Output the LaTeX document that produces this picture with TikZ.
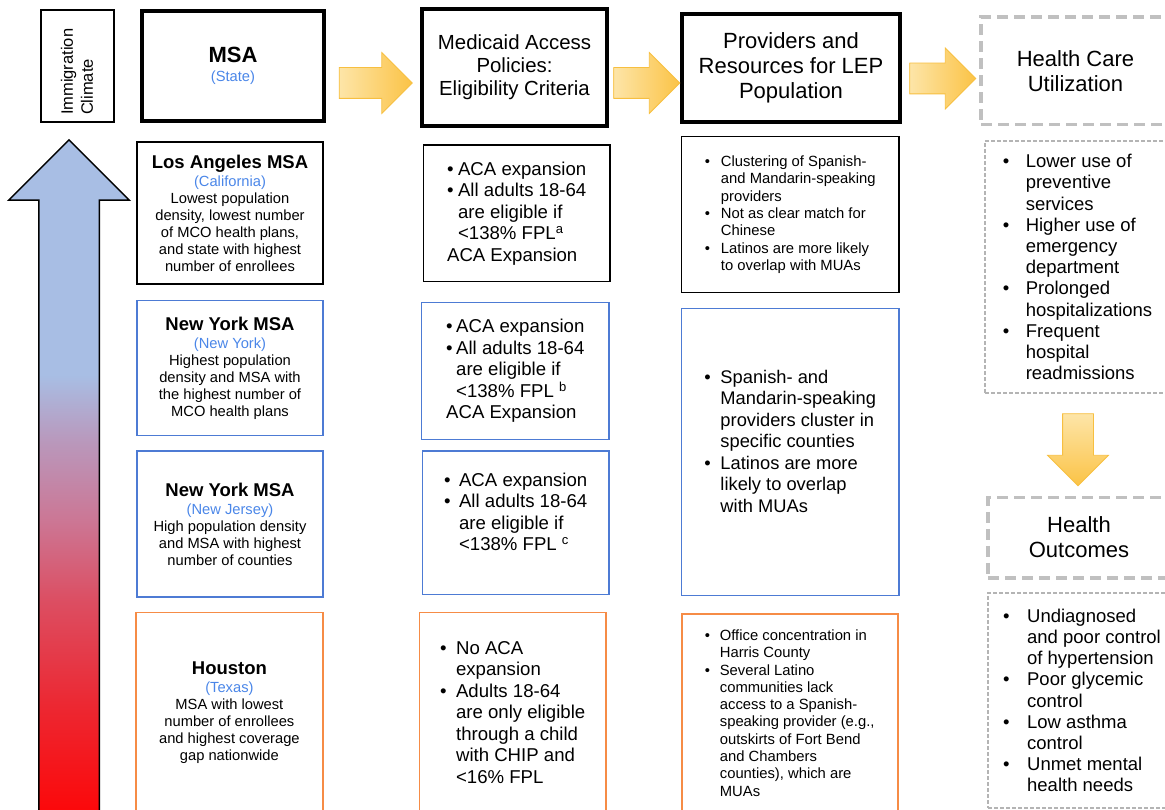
\documentclass[tikz,border=0pt]{standalone}
\usepackage{fontspec}
\setmainfont{Liberation Sans}
\usetikzlibrary{shapes.arrows}

% Colours
\definecolor{txtblue}{RGB}{74,134,232}
\definecolor{boxblue}{RGB}{77,123,212}
\definecolor{boxorange}{RGB}{246,140,70}
\definecolor{dashgray}{RGB}{192,192,192}
\definecolor{dotgray}{RGB}{180,180,180}
\definecolor{arrlight}{RGB}{253,229,168}
\definecolor{arrdark}{RGB}{251,195,70}
\definecolor{arredge}{RGB}{247,191,64}
\definecolor{climblue}{RGB}{168,190,228}
\definecolor{climlilac}{RGB}{185,152,188}
\definecolor{climrose}{RGB}{204,118,148}
\definecolor{climpink}{RGB}{220,78,98}
\definecolor{climcoral}{RGB}{236,40,50}
\definecolor{climred}{RGB}{252,8,10}

\pgfdeclareverticalshading{climate}{100bp}{%
  color(0bp)=(climred); color(25bp)=(climred); color(33bp)=(climcoral);
  color(40.7bp)=(climpink); color(46.6bp)=(climrose); color(52.6bp)=(climlilac);
  color(57.5bp)=(climblue); color(75bp)=(climblue); color(100bp)=(climblue)}

\tikzset{
  hdr/.style={draw, line width=3.5pt, align=center, font=\fontsize{20.4}{23}\selectfont},
  dashhdr/.style={draw=dashgray, line width=3.5pt, dash pattern=on 11pt off 6pt, align=center, font=\fontsize{22}{25}\selectfont},
  cell/.style={draw, line width=1.6pt, align=center, font=\fontsize{14.7}{17}\selectfont},
  bluecell/.style={cell, draw=boxblue},
  orangecell/.style={cell, draw=boxorange},
  biglist/.style={align=left, font=\fontsize{18.6}{21.5}\selectfont},
  smalllist/.style={align=left, font=\fontsize{14.8}{17.3}\selectfont},
  dotlist/.style={draw=dotgray, line width=1.2pt, dash pattern=on 4pt off 2pt, align=left, font=\fontsize{18.5}{21.2}\selectfont},
  blockarrow/.style={single arrow, draw=arredge, line width=0.8pt, left color=arrlight, right color=arrdark, minimum width=60pt, single arrow head extend=15pt, single arrow tip angle=90, inner sep=15pt},
  climarrow/.style={single arrow, draw, line width=1.5pt, shade, shading=climate, shape border rotate=90, minimum width=119pt, minimum height=672pt, single arrow head extend=30pt, single arrow tip angle=90, inner sep=29.5pt}
}

\newcommand{\ttl}[1]{{\fontsize{18.5}{17}\selectfont\bfseries #1}}
\newcommand{\statename}[1]{\textcolor{txtblue}{#1}}
\newcommand{\bul}[1]{\makebox[#1][l]{\textbullet}}
\newcommand{\bpad}[1]{\hspace*{#1}}

\begin{document}
\begin{tikzpicture}[x=1pt, y=-1pt]
\useasboundingbox (0,0) rectangle (1165,810);
% Immigration climate
    \node[climarrow] (clim) at (69,491) {};
    \node[hdr, line width=2pt, rotate=90, minimum width=112pt, minimum height=73pt, text width=98pt, align=left, font=\fontsize{16.5}{20}\selectfont] (imm) at (77,66) {Immigration\\Climate};
% Header row
    \node[hdr, line width=4pt, minimum width=182.5pt, minimum height=110.5pt, font=\fontsize{14.7}{19}\selectfont] (msa) at (233,66) {{\fontsize{22}{24}\selectfont\bfseries MSA}\\\statename{(State)}};
    \node[hdr, minimum width=185pt, minimum height=117pt] (med) at (514.5,67.5) {Medicaid Access\\Policies:\\Eligibility Criteria};
    \node[hdr, line width=4pt, minimum width=218pt, minimum height=108pt, font=\fontsize{22}{25}\selectfont] (prov) at (791,68) {Providers and\\Resources for LEP\\Population};
    \node[dashhdr, minimum width=189pt, minimum height=107.7pt] (hcu) at (1075.5,70.85) {Health Care\\Utilization};
% Block arrows
    \node[blockarrow, minimum height=73pt] (ar1) at (368,83) {};
    \node[blockarrow, minimum height=66pt] (ar2) at (639,83) {};
    \node[blockarrow, minimum height=66pt] (ar3) at (935,78.5) {};
    \node[blockarrow, minimum height=72pt, shape border rotate=270, top color=arrlight, bottom color=arrdark] (ar4) at (1078,442) {};
% MSA column
    \node[cell, minimum width=185.5pt, minimum height=142pt] (la) at (230,213) {\ttl{Los Angeles MSA}\\[1pt]\statename{(California)}\\Lowest population\\density, lowest number\\of MCO health plans,\\and state with highest\\number of enrollees};
    \node[bluecell, minimum width=185.5pt, minimum height=134.6pt] (nyc) at (230,368) {\ttl{New York MSA}\\[1pt]\statename{(New York)}\\Highest population\\density and MSA with\\the highest number of\\MCO health plans};
    \node[bluecell, minimum width=185.5pt, minimum height=145.7pt] (nj) at (230,524) {\ttl{New York MSA}\\[1pt]\statename{(New Jersey)}\\High population density\\and MSA with highest\\number of counties};
    \node[orangecell, minimum width=186.7pt, minimum height=199.8pt] (hou) at (229.4,712.2) {\ttl{Houston}\\[1pt]\statename{(Texas)}\\MSA with lowest\\number of enrollees\\and highest coverage\\gap nationwide};
% Medicaid column
    \node[cell, biglist, minimum width=186.7pt, minimum height=136.7pt] (med1) at (516.7,213.3) {\bul{11pt}ACA expansion\\\bul{11pt}All adults 18-64\\\bpad{11pt}are eligible if\\\bpad{11pt}<138\% FPL\textsuperscript{a}\\ACA Expansion};
    \node[bluecell, biglist, minimum width=187.3pt, minimum height=136.7pt] (med2) at (515.3,371) {\bul{10pt}ACA expansion\\\bul{10pt}All adults 18-64\\\bpad{10pt}are eligible if\\\bpad{10pt}<138\% FPL \textsuperscript{b}\\ACA Expansion};
    \node[bluecell, biglist, minimum width=186.7pt, minimum height=143.3pt] (med3) at (515.7,522.7) {\bul{15pt}ACA expansion\\\bul{15pt}All adults 18-64\\\bpad{15pt}are eligible if\\\bpad{15pt}<138\% FPL \textsuperscript{c}\\\mbox{}};
    \node[orangecell, biglist, minimum width=186.7pt, minimum height=199.3pt] (med4) at (512.7,712.3) {\bul{16pt}No ACA\\\bpad{16pt}expansion\\\bul{16pt}Adults 18-64\\\bpad{16pt}are only eligible\\\bpad{16pt}through a child\\\bpad{16pt}with CHIP and\\\bpad{16pt}<16\% FPL};
% Providers column
    \node[cell, smalllist, minimum width=217.3pt, minimum height=156pt] (pr1) at (790.3,214.7) {\bul{16pt}Clustering of Spanish-\\\bpad{16pt}and Mandarin-speaking\\\bpad{16pt}providers\\\bul{16pt}Not as clear match for\\\bpad{16pt}Chinese\\\bul{16pt}Latinos are more likely\\\bpad{16pt}to overlap with MUAs};
    \node[bluecell, biglist, font=\fontsize{18.3}{21.5}\selectfont, minimum width=217.3pt, minimum height=287.3pt] (pr2) at (790.3,452) {\bul{16pt}Spanish- and\\\bpad{16pt}Mandarin-speaking\\\bpad{16pt}providers cluster in\\\bpad{16pt}specific counties\\\bul{16pt}Latinos are more\\\bpad{16pt}likely to overlap\\\bpad{16pt}with MUAs\\\mbox{}};
    \node[orangecell, smalllist, minimum width=216pt, minimum height=198pt] (pr3) at (789.7,713) {\bul{15pt}Office concentration in\\\bpad{15pt}Harris County\\\bul{15pt}Several Latino\\\bpad{15pt}communities lack\\\bpad{15pt}access to a Spanish-\\\bpad{15pt}speaking provider (e.g.,\\\bpad{15pt}outskirts of Fort Bend\\\bpad{15pt}and Chambers\\\bpad{15pt}counties), which are\\\bpad{15pt}MUAs};
% Outcomes column
    \node[dotlist, minimum width=185pt, minimum height=252pt] (hcul) at (1077.5,267) {\bul{23pt}Lower use of\\\bpad{23pt}preventive\\\bpad{23pt}services\\\bul{23pt}Higher use of\\\bpad{23pt}emergency\\\bpad{23pt}department\\\bul{23pt}Prolonged\\\bpad{23pt}hospitalizations\\\bul{23pt}Frequent\\\bpad{23pt}hospital\\\bpad{23pt}readmissions};
    \node[dashhdr, minimum width=182pt, minimum height=80.5pt] (ho) at (1079,537.5) {Health\\Outcomes};
    \node[dotlist, minimum width=188pt, minimum height=215pt] (hol) at (1082,700.5) {\bul{24pt}Undiagnosed\\\bpad{24pt}and poor control\\\bpad{24pt}of hypertension\\\bul{24pt}Poor glycemic\\\bpad{24pt}control\\\bul{24pt}Low asthma\\\bpad{24pt}control\\\bul{24pt}Unmet mental\\\bpad{24pt}health needs};
\end{tikzpicture}
\end{document}
